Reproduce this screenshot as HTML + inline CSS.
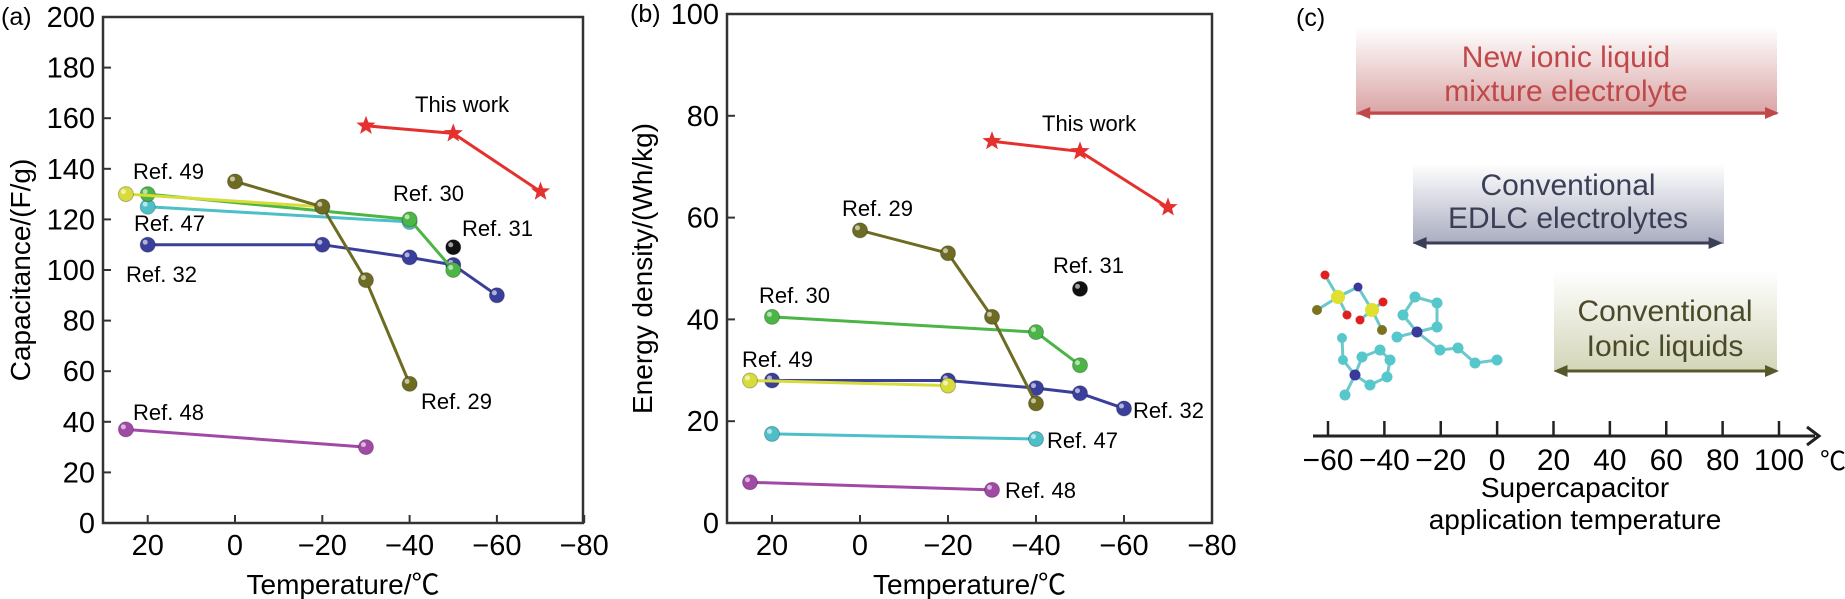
<!DOCTYPE html>
<html><head><meta charset="utf-8">
<style>
html,body{margin:0;padding:0;background:#fff;}
svg{display:block;font-family:"Liberation Sans","Noto Sans CJK SC",sans-serif;}
</style></head>
<body>
<svg id="fig" width="1845" height="599" viewBox="0 0 1845 599" xmlns="http://www.w3.org/2000/svg">
<defs>
<linearGradient id="gRed" x1="0" y1="0" x2="0" y2="1"><stop offset="0" stop-color="#fff"/><stop offset="1" stop-color="#d9a3a3"/></linearGradient>
<linearGradient id="gBlue" x1="0" y1="0" x2="0" y2="1"><stop offset="0" stop-color="#fff"/><stop offset="1" stop-color="#a9acc0"/></linearGradient>
<linearGradient id="gGreen" x1="0" y1="0" x2="0" y2="1"><stop offset="0" stop-color="#fff"/><stop offset="1" stop-color="#d3d5b8"/></linearGradient>
</defs>
<g id="panelA"></g>
<g id="panelB"></g>
<g id="panelC">
  <text x="1296" y="26" font-size="25">(c)</text>
  <rect x="1356" y="27" width="421" height="88" fill="url(#gRed)"/>
  <text x="1566" y="67" font-size="30" fill="#c0484a" text-anchor="middle">New ionic liquid</text>
  <text x="1566" y="101" font-size="30" fill="#c0484a" text-anchor="middle">mixture electrolyte</text>
  <rect x="1413" y="164" width="311" height="80" fill="url(#gBlue)"/>
  <text x="1568" y="195" font-size="30" fill="#3a3f55" text-anchor="middle">Conventional</text>
  <text x="1568" y="228" font-size="30" fill="#3a3f55" text-anchor="middle">EDLC electrolytes</text>
  <rect x="1554" y="271" width="223" height="101" fill="url(#gGreen)"/>
  <text x="1665" y="321" font-size="30" fill="#4a4a2a" text-anchor="middle">Conventional</text>
  <text x="1665" y="356" font-size="30" fill="#4a4a2a" text-anchor="middle">Ionic liquids</text>
  <g id="arrows"></g>
  <g id="molecule"></g>
  <g id="axisC"></g>
  <text x="1575" y="497" font-size="28" text-anchor="middle">Supercapacitor</text>
  <text x="1575" y="529" font-size="28" text-anchor="middle">application temperature</text>
</g>
</svg>
<script>
// ---- Panel (a) data: capacitance (F/g) vs temperature (°C)
const aThisT=[-30,-50,-70], aThisV=[157,154,131];
const aR49T=[25,-20], aR49V=[130,125];
const aR30T=[20,-40,-50], aR30V=[130,120,100];
const aR47T=[20,-40], aR47V=[125,119];
const aR32T=[20,-20,-40,-50,-60], aR32V=[110,110,105,102,90];
const aR29T=[0,-20,-30,-40], aR29V=[135,125,96,55];
const aR31T=[-50], aR31V=[109];
const aR48T=[25,-30], aR48V=[37,30];
// ---- Panel (b) data: energy density (Wh/kg) vs temperature
const bThisT=[-30,-50,-70], bThisV=[75,73,62];
const bR29T=[0,-20,-30,-40], bR29V=[57.5,53,40.5,23.5];
const bR30T=[20,-40,-50], bR30V=[40.5,37.5,31];
const bR31T=[-50], bR31V=[46];
const bR49T=[25,-20], bR49V=[28,27];
const bR32T=[20,-20,-40,-50,-60], bR32V=[28,28,26.5,25.5,22.5];
const bR47T=[20,-40], bR47V=[17.5,16.5];
const bR48T=[25,-30], bR48V=[8,6.5];
const xTicks=[20,0,-20,-40,-60,-80];
const aYTicks=[0,20,40,60,80,100,120,140,160,180,200];
const bYTicks=[0,20,40,60,80,100];
const cTicks=[-60,-40,-20,0,20,40,60,80,100];

const NS="http://www.w3.org/2000/svg";
function mk(tag,attrs,parent,txt){const e=document.createElementNS(NS,tag);for(const k in attrs)e.setAttribute(k,attrs[k]);if(txt!==undefined)e.textContent=txt;parent.appendChild(e);return e;}

const C={red:"#e5302e",yellow:"#d8dc3a",green:"#4bb545",cyan:"#4cbfc8",blue:"#3b3f9c",olive:"#6e6b22",magenta:"#a04aa6",black:"#111"};

function star(g,cx,cy,r,col){let p=[];for(let i=0;i<10;i++){const a=-Math.PI/2+i*Math.PI/5;const rr=i%2?r*0.42:r;p.push((cx+rr*Math.cos(a)).toFixed(1)+","+(cy+rr*Math.sin(a)).toFixed(1));}return mk("polygon",{points:p.join(" "),fill:col},g);}

function panel(g,cfg){
  const {x0,x1,y0,y1,ymax,yTicks,title,label,labelX}=cfg;
  const xs=T=>cfg.xz+(-T)*cfg.xs;
  const ys=v=>y1-v*(y1-y0)/ymax;
  const fr=mk("rect",{x:x0,y:y0,width:x1-x0,height:y1-y0,fill:"none",stroke:"#333",'stroke-width':2.5},g);
  
  
  yTicks.forEach(v=>{
    const t=mk("line",{x1:x0,x2:x0+8,y1:ys(v),y2:ys(v),stroke:"#333",'stroke-width':2},g);
    
    
    const l=mk("text",{x:x0-8,y:ys(v)+10,'font-size':29,'text-anchor':'end'},g,String(v));
    
    
  });
  xTicks.forEach(T=>{
    const t=mk("line",{x1:xs(T),x2:xs(T),y1:y1,y2:y1-8,stroke:"#333",'stroke-width':2},g);
    
    
    const l=mk("text",{x:xs(T),y:y1+32,'font-size':29,'text-anchor':'middle'},g,T<0?"\u2212"+(-T):String(T));
    
    
  });
  const xt=mk("text",{x:(x0+x1)/2,y:y1+71,'font-size':28,'text-anchor':'middle'},g,"Temperature/\u2103");
  
  
  const yt=mk("text",{x:0,y:0,'font-size':28,'text-anchor':'middle',transform:`translate(${cfg.ytX},${(y0+y1)/2}) rotate(-90)`},g,title);
  
  
  const pl=mk("text",{x:labelX,y:y0+8,'font-size':25},g,label);
  
  
  cfg.series.forEach(s=>{
    const sg=mk("g",{},g);
    
    
    if(s.T.length>1){
      const ln=mk("polyline",{points:s.T.map((T,i)=>xs(T)+","+ys(s.V[i])).join(" "),fill:"none",stroke:s.col,'stroke-width':3},sg);
      
      
    }
    s.T.forEach((T,i)=>{
      let m;
      if(s.star){m=star(sg,xs(T),ys(s.V[i]),10,s.col);}
      else{m=mk("circle",{cx:xs(T),cy:ys(s.V[i]),r:7.5,fill:s.col,stroke:"rgba(0,0,0,0.25)",'stroke-width':1},sg);
        mk("circle",{cx:xs(T)-2.5,cy:ys(s.V[i])-2.5,r:2.5,fill:"rgba(255,255,255,0.6)"},sg);}
      
      
    });
  });
  cfg.labels.forEach(L=>{
    const t=mk("text",{x:L[1],y:L[2]+8,'font-size':22},g,L[0]);
    
    
  });
}

panel(document.getElementById("panelA"),{x0:103,x1:583,y0:17,y1:523,ymax:200,yTicks:aYTicks,xz:235,xs:4.365,ytX:30,
  title:"Capacitance/(F/g)",label:"(a)",labelX:1,
  series:[
    {name:"ref-48",T:aR48T,V:aR48V,col:C.magenta},
    {name:"ref-32",T:aR32T,V:aR32V,col:C.blue},
    {name:"ref-47",T:aR47T,V:aR47V,col:C.cyan},
    {name:"ref-30",T:aR30T,V:aR30V,col:C.green},
    {name:"ref-49",T:aR49T,V:aR49V,col:C.yellow},
    {name:"ref-29",T:aR29T,V:aR29V,col:C.olive},
    {name:"ref-31",T:aR31T,V:aR31V,col:C.black},
    {name:"this-work",T:aThisT,V:aThisV,col:C.red,star:true}],
  labels:[["This work",415,104],["Ref. 49",133,171],["Ref. 30",393,193],["Ref. 31",462,228],["Ref. 47",134,223],["Ref. 32",126,274],["Ref. 29",421,401],["Ref. 48",133,412]]});

panel(document.getElementById("panelB"),{x0:727,x1:1212,y0:14,y1:523,ymax:100,yTicks:bYTicks,xz:860,xs:4.4,ytX:652,
  title:"Energy density/(Wh/kg)",label:"(b)",labelX:630,
  series:[
    {name:"ref-48",T:bR48T,V:bR48V,col:C.magenta},
    {name:"ref-47",T:bR47T,V:bR47V,col:C.cyan},
    {name:"ref-32",T:bR32T,V:bR32V,col:C.blue},
    {name:"ref-49",T:bR49T,V:bR49V,col:C.yellow},
    {name:"ref-30",T:bR30T,V:bR30V,col:C.green},
    {name:"ref-29",T:bR29T,V:bR29V,col:C.olive},
    {name:"ref-31",T:bR31T,V:bR31V,col:C.black},
    {name:"this-work",T:bThisT,V:bThisV,col:C.red,star:true}],
  labels:[["This work",1042,123],["Ref. 29",842,208],["Ref. 30",759,295],["Ref. 31",1053,265],["Ref. 49",742,359],["Ref. 32",1133,410],["Ref. 47",1047,440],["Ref. 48",1005,490]]});

// ---- Panel (c)
const cx=T=>1328+(T+60)*(1779-1328)/160;
const axG=document.getElementById("axisC");
const axl=mk("line",{x1:1313,x2:1815,y1:436,y2:436,stroke:"#222",'stroke-width':3},axG);


const ah=mk("polyline",{points:"1807,427 1819,436 1807,445",fill:"none",stroke:"#222",'stroke-width':3},axG);


cTicks.forEach(T=>{
  const t=mk("line",{x1:cx(T),x2:cx(T),y1:436,y2:421,stroke:"#222",'stroke-width':2.5},axG);
  
  
  const l=mk("text",{x:cx(T),y:470,'font-size':30,'text-anchor':'middle'},axG,T<0?"\u2212"+(-T):String(T));
  
  
});
const cu=mk("text",{x:1820,y:470,'font-size':26},axG,"\u2103");



const rangeFrom=[-50,-30,20], rangeTo=[100,80,100], rangeY=[113,243,371], rangeCol=["#c0484a","#3a3f55","#55592a"], rangeName=["new-ionic-liquid","edlc","ionic-liquids"];
const arG=document.getElementById("arrows");
rangeFrom.forEach((f,i)=>{
  const a=cx(f), b=cx(rangeTo[i]), y=rangeY[i];
  const g=mk("g",{},arG);
  
  
  mk("line",{x1:a+4,x2:b-4,y1:y,y2:y,stroke:rangeCol[i],'stroke-width':3},g);
  mk("polygon",{points:`${a},${y} ${a+14},${y-6} ${a+14},${y+6}`,fill:rangeCol[i]},g);
  mk("polygon",{points:`${b},${y} ${b-14},${y-6} ${b-14},${y+6}`,fill:rangeCol[i]},g);
});

// molecule decoration
const mol=document.getElementById("molecule");
const bonds=[[1325,275,1338,297],[1338,297,1358,287],[1358,287,1372,310],[1338,297,1347,315],[1338,297,1317,310],[1372,310,1360,320],[1372,310,1383,302],[1372,310,1382,330],
[1417,332,1403,315],[1403,315,1415,297],[1415,297,1437,303],[1437,303,1437,327],[1437,327,1417,332],[1417,332,1397,337],[1417,332,1440,350],[1440,350,1458,348],[1458,348,1475,363],[1475,363,1497,360],
[1355,375,1343,360],[1343,360,1342,338],[1355,375,1362,357],[1362,357,1380,350],[1380,350,1390,360],[1390,360,1387,377],[1387,377,1370,385],[1370,385,1355,375],[1355,375,1345,395]];
bonds.forEach(b=>mk("line",{x1:b[0],y1:b[1],x2:b[2],y2:b[3],stroke:"#6cc8cc",'stroke-width':3},mol));
const atoms=[[1325,275,"#e02020",4.5],[1338,297,"#e0e030",7],[1358,287,"#3a3a9a",4.5],[1372,310,"#e0e030",7],[1347,315,"#e02020",4.5],[1360,320,"#e02020",4.5],[1383,302,"#e02020",4.5],[1317,310,"#7a7420",5],[1382,330,"#7a7420",5],
[1417,332,"#3a3a9a",5.5],[1415,297,"#56c8cc",5.5],[1437,303,"#56c8cc",5.5],[1437,327,"#56c8cc",5.5],[1403,315,"#56c8cc",5.5],[1397,337,"#56c8cc",5.5],[1440,350,"#56c8cc",5.5],[1458,348,"#56c8cc",5.5],[1475,363,"#56c8cc",5.5],[1497,360,"#56c8cc",5.5],
[1355,375,"#3a3a9a",5.5],[1342,338,"#56c8cc",5],[1343,360,"#56c8cc",5],[1362,357,"#56c8cc",5.5],[1380,350,"#56c8cc",5.5],[1390,360,"#56c8cc",5.5],[1387,377,"#56c8cc",5.5],[1370,385,"#56c8cc",5.5],[1345,395,"#56c8cc",5.5]];
atoms.forEach(a=>mk("circle",{cx:a[0],cy:a[1],r:a[3],fill:a[2]},mol));
</script>
</body></html>
